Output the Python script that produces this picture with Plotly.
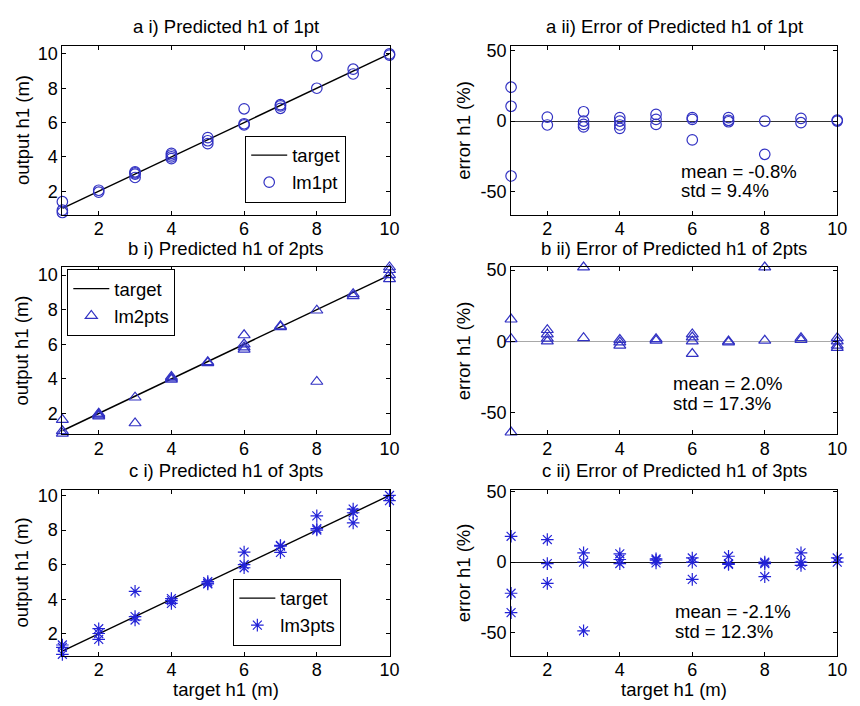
import plotly.graph_objects as go

W, H = 860, 706
OFF = 8  # page body margin of the written html
FONT = "Liberation Sans, Arial, sans-serif"
FS = 18.5
TFS = 18  # tick label size

# ---------------- data ----------------
target_h1 = [1, 2, 3, 4, 5, 6, 7, 8, 9, 10]

# 1 point model
x_1pt = [1, 1, 1, 2, 2, 3, 3, 3, 3, 4, 4, 4, 4, 5, 5, 5, 6, 6, 6, 7, 7, 7, 8, 8, 9, 9, 10, 10]
out_1pt = [0.76, 0.895, 1.39, 1.944, 2.056, 2.80, 3.00, 3.07, 3.13, 3.90, 4.00, 4.11, 4.21,
           4.77, 4.94, 5.12, 5.86, 5.93, 6.80, 6.83, 6.97, 7.04, 8.00, 9.89, 8.83, 9.11, 9.93, 10.0]
err_1pt = [24, 10.5, -39, 2.8, -2.8, 6.6, 0, -2.4, -4.2, 2.4, 0, -2.8, -5.2,
           4.7, 1.2, -2.4, 2.4, 1.2, -13.4, 2.4, 0.5, -0.5, 0, -23.6, 1.9, -1.2, 0.7, 0]

# 2 points model
x_2pts = [1, 1, 1, 2, 2, 2, 2, 3, 3, 4, 4, 4, 5, 5, 6, 6, 6, 6, 7, 7, 8, 8, 9, 9, 10, 10, 10, 10]
out_2pts = [0.846, 0.984, 1.64, 1.84, 1.90, 1.96, 2.00, 1.44, 2.93, 3.96, 4.03, 4.12, 4.92, 4.975,
            5.70, 5.83, 6.00, 6.53, 7.00, 7.05, 3.84, 7.96, 8.79, 8.91, 9.77, 10.0, 10.3, 10.46]
err_2pts = [15.4, 1.6, -64, 8, 5, 2, 0, 52, 2.3, 1, -0.7, -3, 1.6, 0.5,
            5, 2.8, 0, -8.8, 0, -0.7, 52, 0.5, 2.3, 1, 2.3, 0, -3, -4.6]

# 3 points model
x_3pts = [1, 1, 1, 2, 2, 2, 3, 3, 3, 4, 4, 4, 5, 5, 5, 6, 6, 6, 7, 7, 7, 8, 8, 8, 9, 9, 9, 10, 10]
out_3pts = [0.817, 1.22, 1.357, 1.68, 2.02, 2.30, 2.80, 3.00, 4.46, 3.76, 3.92, 4.04,
            4.885, 4.93, 5.025, 5.82, 6.00, 6.73, 6.71, 7.07, 7.11, 8.00, 8.08, 8.82,
            8.41, 9.00, 9.21, 9.70, 10.0]
err_3pts = [18.3, -22, -35.7, 16, -1, -15, 6.6, 0, -48.6, 5.9, 1.9, -1,
            2.3, 1.4, -0.5, 3, 0, -12.2, 4.2, -1, -1.6, 0, -1, -10.3,
            6.6, 0, -2.3, 3, 0]

left_titles = ["a i) Predicted h1 of 1pt", "b i) Predicted h1 of 2pts", "c i) Predicted h1 of 3pts"]
right_titles = ["a ii) Error of Predicted h1 of 1pt", "b ii) Error of Predicted h1 of 2pts",
                "c ii) Error of Predicted h1 of 3pts"]
series_names = ["lm1pt", "lm2pts", "lm3pts"]
stats_mean = ["mean = -0.8%", "mean = 2.0%", "mean = -2.1%"]
stats_std = ["std = 9.4%", "std = 17.3%", "std = 12.3%"]
x_ticks = [2, 4, 6, 8, 10]
left_y_ticks = [2, 4, 6, 8, 10]
right_y_ticks = [-50, 0, 50]
right_y_ticktext = ["-50", "0", "50"]

# ---------------- layout geometry (reference pixels) ----------------
rows_px = [(38, 209), (262, 431), (487, 655)]
left_px = (63, 394)
right_px = (517, 847)
left_ranges = [[0.63, 10.48], [0.80, 10.46], [0.74, 10.34]]
right_ranges = [[-66.5, 53.5], [-65.3, 52.1], [-66.2, 51.4]]
zero_colors = ["#333333", "#a8a8a8", "#111111"]
title_y = [19, 243, 468]
mean_pos = [(687, 165), (679, 380), (681, 610)]
std_pos = [(687, 185), (679, 400), (681, 631)]
legend_pos = [(248, 129), (68, 264), (236, 577)]

xs = [x_1pt, x_2pts, x_3pts]
outs = [out_1pt, out_2pts, out_3pts]
errs = [err_1pt, err_2pts, err_3pts]
symbols = ["circle-open", "triangle-up-open", "asterisk-open"]
mcolors = ["rgb(50,50,195)", "rgb(50,50,195)", "rgb(35,35,215)"]


def px(xp):
    return (xp - OFF) / W


def py(yp):
    return 1 - (yp - OFF) / H


fig = go.Figure()
layout = dict(
    width=W, height=H,
    margin=dict(l=0, r=0, t=0, b=0),
    paper_bgcolor="white", plot_bgcolor="white",
    font=dict(family=FONT, size=FS, color="black"),
    showlegend=True,
)
annotations = []

axis_common = dict(
    showline=True, linecolor="black", linewidth=1, mirror="ticks",
    ticks="inside", ticklen=4, tickcolor="black", showgrid=False,
    zeroline=False, tickfont=dict(family=FONT, size=TFS, color="black"),
)

for r in range(3):
    ytop, ybot = rows_px[r]
    legname = "legend" if r == 0 else f"legend{r + 1}"
    for c in range(2):
        i = r * 2 + c + 1
        sfx = "" if i == 1 else str(i)
        xdom = left_px if c == 0 else right_px
        xa = dict(axis_common, domain=[px(xdom[0]), px(xdom[1])], range=[1, 10],
                  tickvals=x_ticks, anchor="y" + sfx, ticklabelstandoff=-2)
        ya = dict(axis_common, domain=[py(ybot), py(ytop)], anchor="x" + sfx)
        if c == 0:
            ya.update(range=left_ranges[r], tickvals=left_y_ticks)
        else:
            ya.update(range=right_ranges[r], tickvals=right_y_ticks, ticktext=right_y_ticktext,
                      zeroline=True, zerolinecolor=zero_colors[r], zerolinewidth=1.3)
        layout["xaxis" + sfx] = xa
        layout["yaxis" + sfx] = ya

        if c == 0:
            fig.add_trace(go.Scatter(
                x=target_h1, y=target_h1, mode="lines", name="target",
                line=dict(color="black", width=1.4), xaxis="x" + sfx, yaxis="y" + sfx,
                legend=legname, cliponaxis=False))
            fig.add_trace(go.Scatter(
                x=xs[r], y=outs[r], mode="markers", name=series_names[r],
                marker=dict(symbol=symbols[r], size=10.5, color=mcolors[r],
                            line=dict(width=1.2, color=mcolors[r])),
                xaxis="x" + sfx, yaxis="y" + sfx, legend=legname, cliponaxis=False))
        else:
            fig.add_trace(go.Scatter(
                x=xs[r], y=errs[r], mode="markers", name=series_names[r],
                marker=dict(symbol=symbols[r], size=10.5, color=mcolors[r],
                            line=dict(width=1.2, color=mcolors[r])),
                xaxis="x" + sfx, yaxis="y" + sfx, showlegend=False, cliponaxis=False))

        # panel title
        annotations.append(dict(
            text=(left_titles if c == 0 else right_titles)[r],
            x=px((xdom[0] + xdom[1]) / 2), y=py(title_y[r]), xref="paper", yref="paper",
            xanchor="center", yanchor="middle", showarrow=False,
            font=dict(family=FONT, size=FS, color="black")))
        # y axis title
        annotations.append(dict(
            text="output h1 (m)" if c == 0 else "error h1 (%)",
            x=px(22 if c == 0 else 469), y=py((ytop + ybot) / 2), xref="paper", yref="paper",
            xanchor="center", yanchor="middle", textangle=-90, showarrow=False,
            font=dict(family=FONT, size=FS, color="black")))
        if r == 2:
            annotations.append(dict(
                text="target h1 (m)", x=px((xdom[0] + xdom[1]) / 2), y=py(689),
                xref="paper", yref="paper", xanchor="center", yanchor="middle",
                showarrow=False, font=dict(family=FONT, size=FS, color="black")))

    # stats text
    annotations.append(dict(text=stats_mean[r], x=px(mean_pos[r][0]), y=py(mean_pos[r][1]),
                            xref="paper", yref="paper", xanchor="left", yanchor="middle",
                            showarrow=False, font=dict(family=FONT, size=FS, color="black")))
    annotations.append(dict(text=stats_std[r], x=px(std_pos[r][0]), y=py(std_pos[r][1]),
                            xref="paper", yref="paper", xanchor="left", yanchor="middle",
                            showarrow=False, font=dict(family=FONT, size=FS, color="black")))

    layout[legname] = dict(
        x=px(legend_pos[r][0]), y=py(legend_pos[r][1]), xanchor="left", yanchor="top",
        bgcolor="white", bordercolor="black", borderwidth=1,
        font=dict(family=FONT, size=FS, color="black"),
        itemwidth=36, tracegroupgap=0)

layout["annotations"] = annotations
fig.update_layout(**layout)
fig.write_html("out.html")
